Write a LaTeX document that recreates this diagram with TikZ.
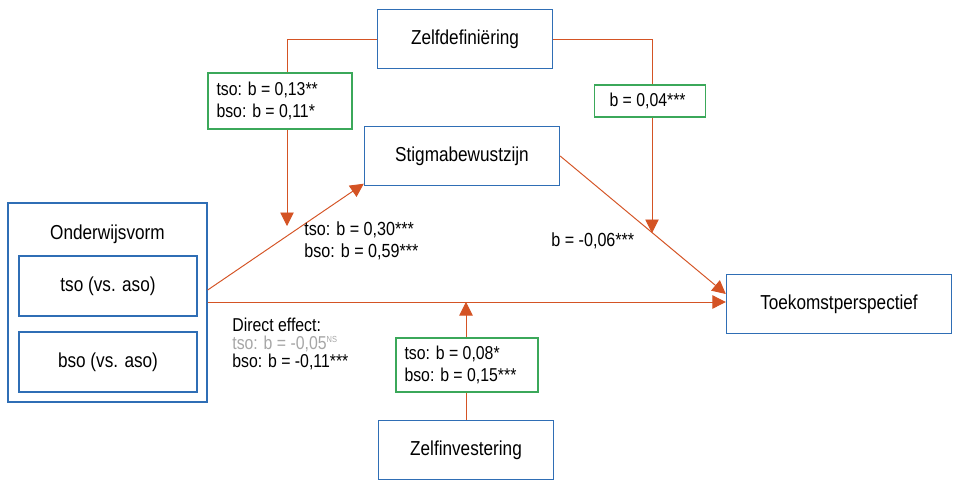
\documentclass[tikz,border=0pt]{standalone}
\usepackage{fontspec}
\setmainfont{Liberation Sans}[FakeStretch=0.85]
\usetikzlibrary{arrows.meta, positioning}
\usepackage{xcolor}
\definecolor{PathOrange}{HTML}{D45324}
\definecolor{BoxBlue}{HTML}{2F6EB5}
\definecolor{ModGreen}{HTML}{3BA85A}
\definecolor{NSGray}{HTML}{A6A6A6}

\begin{document}
\begin{tikzpicture}[
    x=0.02cm, y=-0.02cm,
    var/.style={
        draw=BoxBlue, thick, minimum width=3.5cm, minimum height=1.18cm,
        align=center, font=\fontsize{11.5}{13}\selectfont, inner sep=0pt
    },
    modbox/.style={
        draw=ModGreen, thick, align=flush left, inner xsep=0.17cm, inner ysep=4pt,
        font=\fontsize{10.6}{12.3}\selectfont, fill=white
    },
    arr/.style={-{Triangle[length=2.7mm, width=2.7mm]}, PathOrange, line width=0.55pt},
    coef/.style={font=\fontsize{10.8}{12.5}\selectfont, align=left, anchor=west, inner sep=0pt},
    every node/.style={font=\fontsize{11.5}{13}\selectfont}
]
\useasboundingbox (0,0) rectangle (958,481);

% =============================================
% VARIABLES
% =============================================
\node[var] (zdef) at (465,39) {Zelfdefiniëring};
\node[var, minimum width=3.9cm] (stigma) at (462,156) {Stigmabewustzijn};
\node[var, minimum width=4.5cm] (toek) at (839,304) {Toekomstperspectief};
\node[var] (zinv) at (466,450) {Zelfinvestering};

% Onderwijsvorm with two dummies
\node[draw=BoxBlue, thick, minimum width=3.98cm, minimum height=3.98cm] (onder) at (107.5,302.5) {};
\node[anchor=north] (onderlbl) at ([yshift=-0.33cm]onder.north) {Onderwijsvorm};
\node[var, minimum width=3.56cm, minimum height=1.2cm] (tso) at (108,286) {tso (vs. aso)};
\node[var, minimum width=3.56cm, minimum height=1.2cm] (bso) at (108,362) {bso (vs. aso)};

% =============================================
% PATHS
% =============================================
\coordinate (aout) at (onder.east |- 0,290);
\coordinate (cout) at (onder.east |- 0,302);
\coordinate (bin) at ([yshift=0.05cm]stigma.south west);

\draw[arr] (aout) -- (bin);
\draw[arr] (stigma.east) -- ([yshift=0.2cm]toek.west);
\draw[arr] (cout) -- (toek.west |- cout);

% Moderator: Zelfdefiniering on a-path and b-path
\coordinate (moda) at (287,226);
\coordinate (modb) at (652,233);
\draw[arr] (zdef.west) -| (moda);
\draw[arr] (zdef.east) -| (modb);

% Moderator: Zelfinvestering on direct effect
\draw[arr] (zinv.north) -- (zinv.north |- cout);

% =============================================
% MODERATION COEFFICIENTS
% =============================================
\node[modbox, text width=2.54cm, minimum height=1.12cm] (mzda) at (280,101)
    {tso: b = 0,13**\\bso: b = 0,11*};
\node[modbox, text width=1.62cm, inner xsep=0.3cm, minimum height=0.64cm] (mzdb) at (650,101)
    {b = 0,04***};
\node[modbox, text width=2.5cm, minimum height=1.08cm] (mzi) at (467,365)
    {tso: b = 0,08*\\bso: b = 0,15***};

% =============================================
% PATH COEFFICIENTS
% =============================================
\node[coef] (acoef) at (304,241) {tso: b = 0,30***\\bso: b = 0,59***};
\node[coef] (bcoef) at (551,241) {b = -0,06***};
\node[coef, font=\fontsize{10.6}{10.4}\selectfont] (ccoef) at (232,344)
    {Direct effect:\\\textcolor{NSGray}{tso: b = -0,05\textsuperscript{\tiny NS}}\\bso: b = -0,11***};

\end{tikzpicture}
\end{document}
